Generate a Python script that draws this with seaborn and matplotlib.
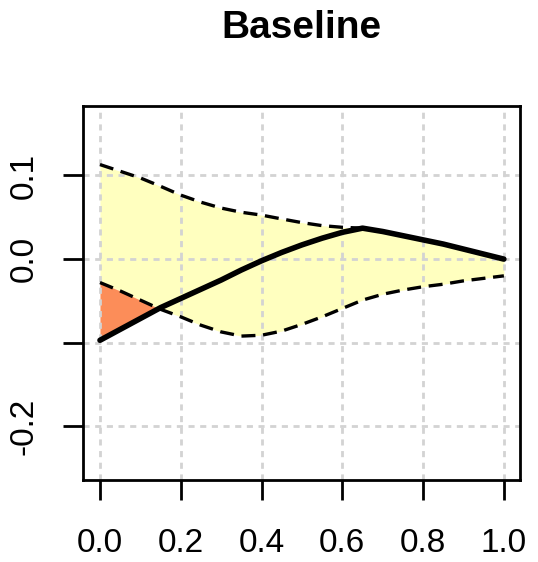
import matplotlib
matplotlib.use("Agg")
import matplotlib.pyplot as plt
import seaborn as sns
import numpy as np
import pandas as pd

x_vals = [0.00, 0.05, 0.10, 0.15, 0.20, 0.25, 0.30, 0.35, 0.40, 0.45, 0.50,
          0.55, 0.60, 0.65, 0.70, 0.75, 0.80, 0.85, 0.90, 0.95, 1.00]
estimate = [-0.097, -0.084, -0.071, -0.058, -0.047, -0.036, -0.025, -0.013, -0.002, 0.008, 0.017,
            0.025, 0.032, 0.037, 0.033, 0.028, 0.023, 0.018, 0.012, 0.006, 0.000]
upper = [0.113, 0.105, 0.097, 0.087, 0.0765, 0.068, 0.061, 0.056, 0.0526, 0.048, 0.0436,
         0.040, 0.038, 0.037, 0.033, 0.028, 0.023, 0.018, 0.012, 0.006, 0.000]
lower = [-0.028, -0.038, -0.049, -0.060, -0.069, -0.079, -0.087, -0.092, -0.091, -0.086, -0.078,
         -0.069, -0.059, -0.049, -0.042, -0.037, -0.033, -0.030, -0.026, -0.023, -0.020]

x_ticks = [0.0, 0.2, 0.4, 0.6, 0.8, 1.0]
x_ticklabels = ["0.0", "0.2", "0.4", "0.6", "0.8", "1.0"]
y_ticks = [0.1, 0.0, -0.1, -0.2]
y_ticklabels = ["0.1", "0.0", "", "-0.2"]
title = "Baseline"

sns.set_style("white")
plt.rcParams['font.family'] = ['Liberation Sans', 'DejaVu Sans']
plt.rcParams['text.color'] = 'black'
plt.rcParams['xtick.color'] = 'black'
plt.rcParams['ytick.color'] = 'black'

df = pd.DataFrame({"x": x_vals, "est": estimate, "up": upper, "lo": lower})

fig = plt.figure(figsize=(5.38, 5.62), dpi=100)
ax = fig.add_axes([0.1543, 0.1459, 0.8123, 0.6655])

xa = np.array(x_vals); ea = np.array(estimate); ua = np.array(upper); la = np.array(lower)
ax.fill_between(xa, la, ua, color="#FFFFBF", lw=0, zorder=1)
ax.fill_between(xa, ea, la, where=ea < la, interpolate=True, color="#FC8D59", lw=0, zorder=1)
ax.fill_between(xa, ea, ua, where=ea > ua, interpolate=True, color="#FC8D59", lw=0, zorder=1)

for t in x_ticks:
    ax.axvline(t, color="#D3D3D3", lw=2.0, dashes=(2.2, 2.0), zorder=1.5)
for t in y_ticks:
    ax.axhline(t, color="#D3D3D3", lw=2.0, dashes=(2.2, 2.0), zorder=1.5)

sns.lineplot(data=df, x="x", y="up", ax=ax, color="black", lw=2.4, zorder=2)
sns.lineplot(data=df, x="x", y="lo", ax=ax, color="black", lw=2.4, zorder=2)
for line in ax.lines[-2:]:
    line.set_dashes((4.2, 2.3))
sns.lineplot(data=df, x="x", y="est", ax=ax, color="black", lw=4.0, zorder=3)

ax.set_xlim(-0.042, 1.040)
ax.set_ylim(-0.264, 0.183)
ax.set_xlabel("")
ax.set_ylabel("")
ax.set_xticks(x_ticks)
ax.set_xticklabels(x_ticklabels, fontsize=24)
ax.set_yticks(y_ticks)
ax.set_yticklabels(y_ticklabels, fontsize=24, rotation=90, va="center")
ax.tick_params(axis="both", which="major", bottom=True, left=True, direction="out",
               length=14.5, width=2, color="black", labelcolor="black")
ax.tick_params(axis="x", pad=20)
ax.tick_params(axis="y", pad=17)
for s in ax.spines.values():
    s.set_visible(True)
    s.set_linewidth(2)
    s.set_color("black")

fig.text(0.5604, 0.950, title, ha="center", va="center", fontsize=28, fontweight="bold",
         color="black")

fig.savefig("out.png", dpi=100)
